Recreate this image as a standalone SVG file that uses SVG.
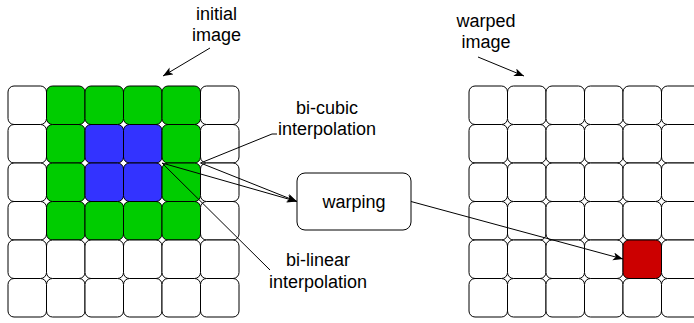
<svg xmlns="http://www.w3.org/2000/svg" width="694" height="323" viewBox="0 0 694 323">
<style>
.c{stroke:#000;stroke-width:1;fill:#fff}
.g{fill:#00cc00}
.b{fill:#3333ff}
.r{fill:#cc0000}
.t{font-family:"Liberation Sans",Arial,sans-serif;font-size:18px;fill:#000;text-anchor:middle}
.e{fill:none;stroke:#000;stroke-width:1}
</style>
<defs>
<marker id="ah" markerWidth="11" markerHeight="9" refX="10" refY="4" orient="auto" markerUnits="userSpaceOnUse">
<path d="M0,0 L10,4 L0,8 L2.5,4 Z" fill="#000"/>
</marker>
<rect id="cell" width="38.5" height="38.5" rx="6" ry="6"/>
</defs>
<rect width="694" height="323" fill="#fff"/>
<g id="initial-grid">
<g id="L00"><use href="#cell" class="c" x="8" y="86"/></g>
<g id="L01"><use href="#cell" class="c g" x="46.5" y="86"/></g>
<g id="L02"><use href="#cell" class="c g" x="85" y="86"/></g>
<g id="L03"><use href="#cell" class="c g" x="123.5" y="86"/></g>
<g id="L04"><use href="#cell" class="c g" x="162" y="86"/></g>
<g id="L05"><use href="#cell" class="c" x="200.5" y="86"/></g>
<g id="L10"><use href="#cell" class="c" x="8" y="124.5"/></g>
<g id="L11"><use href="#cell" class="c g" x="46.5" y="124.5"/></g>
<g id="L12"><use href="#cell" class="c b" x="85" y="124.5"/></g>
<g id="L13"><use href="#cell" class="c b" x="123.5" y="124.5"/></g>
<g id="L14"><use href="#cell" class="c g" x="162" y="124.5"/></g>
<g id="L15"><use href="#cell" class="c" x="200.5" y="124.5"/></g>
<g id="L20"><use href="#cell" class="c" x="8" y="163"/></g>
<g id="L21"><use href="#cell" class="c g" x="46.5" y="163"/></g>
<g id="L22"><use href="#cell" class="c b" x="85" y="163"/></g>
<g id="L23"><use href="#cell" class="c b" x="123.5" y="163"/></g>
<g id="L24"><use href="#cell" class="c g" x="162" y="163"/></g>
<g id="L25"><use href="#cell" class="c" x="200.5" y="163"/></g>
<g id="L30"><use href="#cell" class="c" x="8" y="201.5"/></g>
<g id="L31"><use href="#cell" class="c g" x="46.5" y="201.5"/></g>
<g id="L32"><use href="#cell" class="c g" x="85" y="201.5"/></g>
<g id="L33"><use href="#cell" class="c g" x="123.5" y="201.5"/></g>
<g id="L34"><use href="#cell" class="c g" x="162" y="201.5"/></g>
<g id="L35"><use href="#cell" class="c" x="200.5" y="201.5"/></g>
<g id="L40"><use href="#cell" class="c" x="8" y="240"/></g>
<g id="L41"><use href="#cell" class="c" x="46.5" y="240"/></g>
<g id="L42"><use href="#cell" class="c" x="85" y="240"/></g>
<g id="L43"><use href="#cell" class="c" x="123.5" y="240"/></g>
<g id="L44"><use href="#cell" class="c" x="162" y="240"/></g>
<g id="L45"><use href="#cell" class="c" x="200.5" y="240"/></g>
<g id="L50"><use href="#cell" class="c" x="8" y="278.5"/></g>
<g id="L51"><use href="#cell" class="c" x="46.5" y="278.5"/></g>
<g id="L52"><use href="#cell" class="c" x="85" y="278.5"/></g>
<g id="L53"><use href="#cell" class="c" x="123.5" y="278.5"/></g>
<g id="L54"><use href="#cell" class="c" x="162" y="278.5"/></g>
<g id="L55"><use href="#cell" class="c" x="200.5" y="278.5"/></g>
</g>
<g id="warped-grid">
<g id="R00"><use href="#cell" class="c" x="469" y="86"/></g>
<g id="R01"><use href="#cell" class="c" x="507.5" y="86"/></g>
<g id="R02"><use href="#cell" class="c" x="546" y="86"/></g>
<g id="R03"><use href="#cell" class="c" x="584.5" y="86"/></g>
<g id="R04"><use href="#cell" class="c" x="623" y="86"/></g>
<g id="R05"><use href="#cell" class="c" x="661.5" y="86"/></g>
<g id="R10"><use href="#cell" class="c" x="469" y="124.5"/></g>
<g id="R11"><use href="#cell" class="c" x="507.5" y="124.5"/></g>
<g id="R12"><use href="#cell" class="c" x="546" y="124.5"/></g>
<g id="R13"><use href="#cell" class="c" x="584.5" y="124.5"/></g>
<g id="R14"><use href="#cell" class="c" x="623" y="124.5"/></g>
<g id="R15"><use href="#cell" class="c" x="661.5" y="124.5"/></g>
<g id="R20"><use href="#cell" class="c" x="469" y="163"/></g>
<g id="R21"><use href="#cell" class="c" x="507.5" y="163"/></g>
<g id="R22"><use href="#cell" class="c" x="546" y="163"/></g>
<g id="R23"><use href="#cell" class="c" x="584.5" y="163"/></g>
<g id="R24"><use href="#cell" class="c" x="623" y="163"/></g>
<g id="R25"><use href="#cell" class="c" x="661.5" y="163"/></g>
<g id="R30"><use href="#cell" class="c" x="469" y="201.5"/></g>
<g id="R31"><use href="#cell" class="c" x="507.5" y="201.5"/></g>
<g id="R32"><use href="#cell" class="c" x="546" y="201.5"/></g>
<g id="R33"><use href="#cell" class="c" x="584.5" y="201.5"/></g>
<g id="R34"><use href="#cell" class="c" x="623" y="201.5"/></g>
<g id="R35"><use href="#cell" class="c" x="661.5" y="201.5"/></g>
<g id="R40"><use href="#cell" class="c" x="469" y="240"/></g>
<g id="R41"><use href="#cell" class="c" x="507.5" y="240"/></g>
<g id="R42"><use href="#cell" class="c" x="546" y="240"/></g>
<g id="R43"><use href="#cell" class="c" x="584.5" y="240"/></g>
<g id="R44"><use href="#cell" class="c r" x="623" y="240"/></g>
<g id="R45"><use href="#cell" class="c" x="661.5" y="240"/></g>
<g id="R50"><use href="#cell" class="c" x="469" y="278.5"/></g>
<g id="R51"><use href="#cell" class="c" x="507.5" y="278.5"/></g>
<g id="R52"><use href="#cell" class="c" x="546" y="278.5"/></g>
<g id="R53"><use href="#cell" class="c" x="584.5" y="278.5"/></g>
<g id="R54"><use href="#cell" class="c" x="623" y="278.5"/></g>
<g id="R55"><use href="#cell" class="c" x="661.5" y="278.5"/></g>
</g>
<g id="warping">
<rect x="297" y="173" width="114" height="57" rx="8" ry="8" class="c"/>
<text class="t" x="354" y="208">warping</text>
</g>
<g id="label-initial">
<text class="t" x="216.5" y="20">initial</text>
<text class="t" x="216.5" y="41">image</text>
</g>
<g id="label-warped">
<text class="t" x="486" y="27">warped</text>
<text class="t" x="486" y="48">image</text>
</g>
<g id="label-bicubic">
<text class="t" x="327" y="114">bi-cubic</text>
<text class="t" x="327" y="135">interpolation</text>
</g>
<g id="label-bilinear">
<text class="t" x="318" y="266">bi-linear</text>
<text class="t" x="318" y="288">interpolation</text>
</g>
<g id="connectors">
<path class="e" d="M210,48 L163,76" marker-end="url(#ah)"/>
<path class="e" d="M478,57 L524,76" marker-end="url(#ah)"/>
<path class="e" d="M200.5,163 L272,134 L277,134"/>
<path class="e" d="M162,163 L270,270"/>
<path class="e" d="M200.5,163 L297,201.5" marker-end="url(#ah)"/>
<path class="e" d="M162,163 L297,201.5" marker-end="url(#ah)"/>
<path class="e" d="M411,201.5 L623,259" marker-end="url(#ah)"/>
</g>
</svg>
